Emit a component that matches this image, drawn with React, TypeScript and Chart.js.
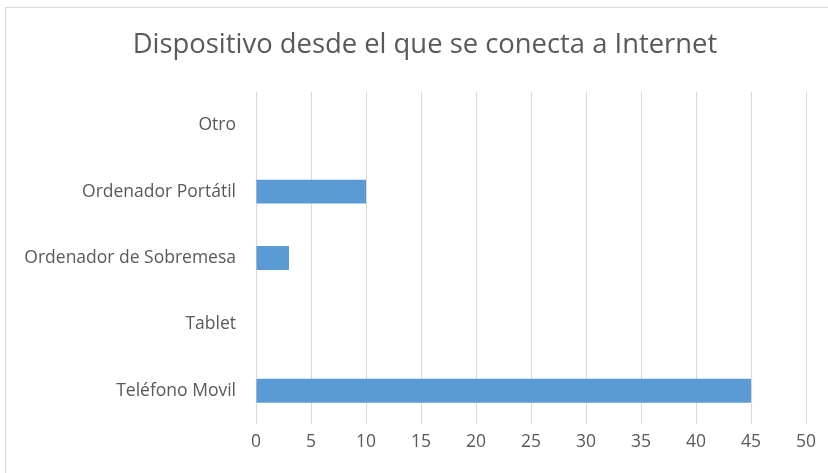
import React, { useEffect, useRef } from "react";
import { Chart, registerables } from "chart.js";

Chart.register(...registerables);

const title = "Dispositivo desde el que se conecta a Internet";
const categories = ["Otro", "Ordenador Portátil", "Ordenador de Sobremesa", "Tablet", "Teléfono Movil"];
const values = [0, 10, 3, 0, 45];
const xMin = 0;
const xMax = 50;
const xStep = 5;

const FONT = "'Open Sans', sans-serif";
const TEXT = "#595959";

const borderPlugin = {
  id: "outerBorder",
  beforeDraw(chart: any) {
    const ctx = chart.ctx;
    ctx.save();
    ctx.fillStyle = "#ffffff";
    ctx.fillRect(0, 0, chart.width, chart.height);
    ctx.strokeStyle = "#d9d9d9";
    ctx.lineWidth = 1;
    ctx.strokeRect(5.5, 7.5, chart.width + 20, chart.height + 20);
    ctx.restore();
  },
  afterDraw(chart: any) {
    const ctx = chart.ctx;
    ctx.save();
    ctx.fillStyle = TEXT;
    ctx.font = `27.4px ${FONT}`;
    ctx.textAlign = "center";
    ctx.textBaseline = "middle";
    ctx.fillText(title, 425, 45);
    ctx.restore();
  },
};

export default function App() {
  const ref = useRef<HTMLCanvasElement>(null);
  useEffect(() => {
    if (!ref.current) return;
    const chart = new Chart(ref.current, {
      type: "bar",
      data: {
        labels: categories,
        datasets: [
          {
            data: values,
            backgroundColor: "#5b9bd5",
            borderWidth: 0,
            categoryPercentage: 1,
            barPercentage: 0.36,
          },
        ],
      },
      options: {
        indexAxis: "y",
        animation: false,
        responsive: false,
        maintainAspectRatio: false,
        layout: { padding: { left: 0, right: 22, top: 92, bottom: 0 } },
        plugins: {
          legend: { display: false },
          tooltip: { enabled: false },
          title: { display: false },
        },
        scales: {
          x: {
            min: xMin,
            max: xMax,
            ticks: { stepSize: xStep, color: TEXT, font: { family: FONT, size: 17.5 }, padding: 8 },
            grid: { color: "#d9d9d9", drawTicks: false },
            border: { display: false },
            afterFit(scale: any) {
              scale.height = 49;
            },
          },
          y: {
            ticks: { color: TEXT, font: { family: FONT, size: 17.5 }, padding: 20 },
            grid: { display: false, drawTicks: false },
            border: { display: false },
            afterFit(scale: any) {
              scale.width = 256;
            },
          },
        },
      },
      plugins: [borderPlugin],
    } as any);
    return () => chart.destroy();
  }, []);
  return (
    <div style={{ position: "fixed", left: 0, top: 0, width: 828, height: 473 }}>
      <canvas ref={ref} width={828} height={473} style={{ display: "block" }} />
    </div>
  );
}
